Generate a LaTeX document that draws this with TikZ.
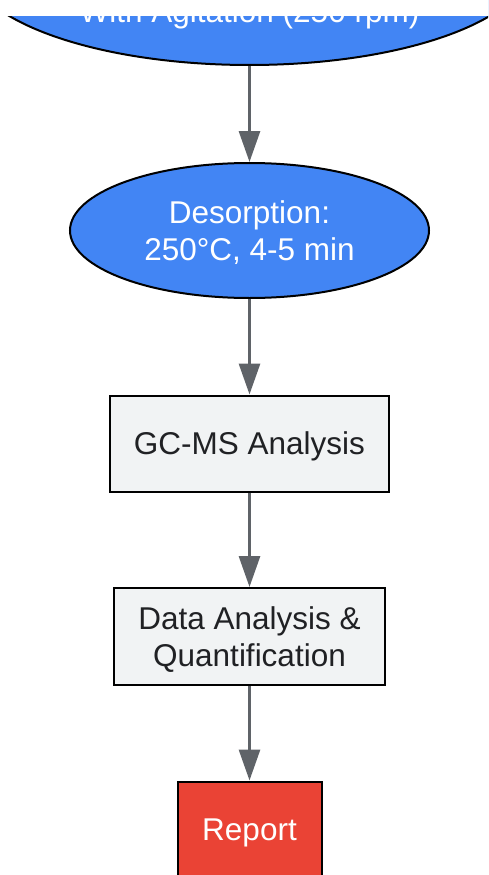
\documentclass[tikz,border=0pt]{standalone}
\usepackage{fontspec}
\setmainfont{Liberation Sans}
\usetikzlibrary{shapes.geometric,arrows.meta}
\definecolor{gblue}{HTML}{4285F4}
\definecolor{gred}{HTML}{EA4335}
\definecolor{gfill}{HTML}{F1F3F4}
\definecolor{garrow}{HTML}{5F6368}
\definecolor{gtext}{HTML}{202124}
\tikzset{
  lbl/.style={font=\fontsize{31.5}{37.5}\selectfont, align=center},
  ell/.style={ellipse, draw=black, line width=2pt, fill=gblue, text=white, inner sep=0pt, text depth=0pt, lbl},
  procbox/.style={rectangle, draw=black, line width=2pt, fill=gfill, text=gtext, inner sep=0pt, text depth=0pt, lbl},
  endbox/.style={rectangle, draw=black, line width=2pt, fill=gred, text=white, inner sep=0pt, text depth=0pt, lbl},
  flow/.style={draw=garrow, line width=3pt, -{Triangle[width=21pt,length=31pt]}}
}
\begin{document}
\begin{tikzpicture}[x=1pt,y=-1pt]
\useasboundingbox (0,0) rectangle (488,875);
\clip (0,0) rectangle (488,875);
\node[ell, minimum width=564pt, minimum height=206pt] (agit) at (249.5,-38) {};
\node[lbl, text=white, anchor=base] (agittxt) at (249.5,23) {With Agitation (250 rpm)};
\fill[white] (-5,-5) rectangle (493,16);
\node[ell, minimum width=359pt, minimum height=135pt] (des) at (249.5,230.5) {Desorption:\\250°C, 4-5 min};
\node[procbox, minimum width=279pt, minimum height=96pt] (gcms) at (249.5,443.5) {GC-MS Analysis};
\node[procbox, minimum width=271pt, minimum height=97pt] (data) at (249.5,636.5) {Data Analysis \&\\Quantification};
\node[endbox, minimum width=144pt, minimum height=97pt] (rep) at (249.5,830) {Report};
\draw[flow] (agit) -- (des);
\draw[flow] (des) -- (gcms);
\draw[flow] (gcms) -- (data);
\draw[flow] (data) -- (rep);
\end{tikzpicture}
\end{document}
